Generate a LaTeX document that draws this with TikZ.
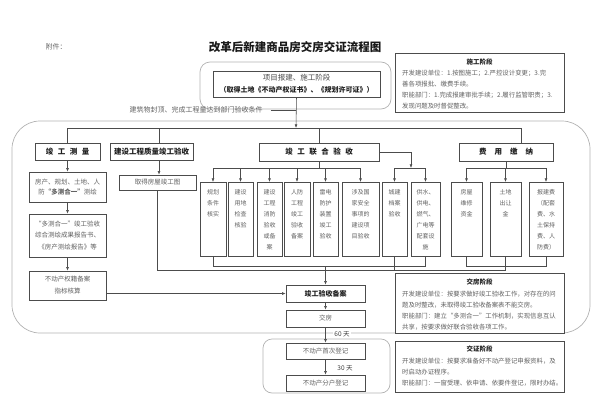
\documentclass[tikz,border=0pt]{standalone}
\usepackage{fontspec}
\setmainfont{Noto Sans CJK SC}
\usetikzlibrary{arrows.meta}
\begin{document}
\begin{tikzpicture}[x=1pt,y=-1pt,
  ln/.style={draw=black!70, line width=0.55pt},
  arr/.style={ln, -{Latex[length=3.6pt,width=2.8pt]}},
  box/.style={draw=black!70, line width=0.6pt, rectangle, inner sep=0pt, fill=white},
  frame/.style={draw=black!30, line width=0.7pt, inner sep=0pt},
  tx/.style={text=black!62, inner sep=0pt},
  hdf/.style={text=black!88, font=\bfseries\fontsize{7.5}{9}\selectfont},
  subtx/.style={tx, align=center, anchor=north, font=\fontsize{6}{11}\selectfont},
  bodytx/.style={tx, anchor=north west, align=left, font=\fontsize{6.4}{11}\selectfont},
  sttl/.style={text=black!88, inner sep=0pt, font=\bfseries\fontsize{6.5}{8}\selectfont},
]
\useasboundingbox (0,0) rectangle (597,407);

% title
\node[text=black!60, inner sep=0pt, font=\fontsize{7}{8}\selectfont] (fj) at (56,47) {附件：};
\node[text=black!90, inner sep=0pt, font=\bfseries\fontsize{11.5}{13}\selectfont] (title) at (295,47) {改革后新建商品房交房交证流程图};

% frames
\node[frame, rounded corners=10, minimum width=191, minimum height=47] (projo) at (295.5,85.5) {};
\node[frame, rounded corners=28, minimum width=578, minimum height=212] (big) at (301,227) {};
\node[frame, rounded corners=9, minimum width=127, minimum height=54] (lowf) at (326.5,366) {};

% top boxes
\node[box, minimum width=167, minimum height=26] (proj) at (296.5,84) {};
\node[tx, text=black!70, font=\fontsize{7.5}{9}\selectfont] (projt1) at (296.5,77.5) {项目报建、施工阶段};
\node[text=black!88, inner sep=0pt, font=\bfseries\fontsize{7}{9}\selectfont] (projt2) at (296.5,90) {（取得土地《不动产权证书》、《规划许可证》）};

\node[box, minimum width=169, minimum height=59] (sg) at (479.5,82.5) {};
\node[sttl] (sgt) at (479.5,62) {施工阶段};
\node[bodytx] (sgb) at (402,69.5) {开发建设单位：1.按图施工；2.严控设计变更；3.完\\善各项报批、缴费手续。\\职能部门：1.完成报建审批手续；2.履行监管职责；3.\\发现问题及时督促整改。};

\node[tx, font=\fontsize{7}{8}\selectfont] (lbl) at (196,110) {建筑物封顶、完成工程量达到部门验收条件};

% row 1
\node[box, hdf, minimum width=65, minimum height=17] (jgcl) at (67.5,151.5) {竣\hspace{4.5pt}工\hspace{4.5pt}测\hspace{4.5pt}量};
\node[box, hdf, minimum width=83, minimum height=17] (zljs) at (151.5,151.5) {建设工程质量竣工验收};
\node[box, hdf, minimum width=120, minimum height=18] (lhys) at (319,152) {竣\hspace{4.5pt}工\hspace{4.5pt}联\hspace{4.5pt}合\hspace{4.5pt}验\hspace{4.5pt}收};
\node[box, hdf, minimum width=94, minimum height=18] (fyjn) at (506,152) {费\hspace{8pt}用\hspace{8pt}缴\hspace{8pt}纳};

% left column
\node[box, tx, align=center, font=\fontsize{6.5}{10}\selectfont, minimum width=77, minimum height=30] (ch1) at (67.5,187) {房产、规划、土地、人\\防\textbf{“多测合一”}测绘};
\node[box, tx, align=center, font=\fontsize{6.5}{11.5}\selectfont, minimum width=77, minimum height=43] (ch2) at (67.5,235.5) {“多测合一”竣工验收\\综合测绘成果报告书、\\《房产测绘报告》等};
\node[box, tx, align=center, font=\fontsize{6.5}{12}\selectfont, minimum width=77, minimum height=29] (ch3) at (67.5,285.5) {不动产权籍备案\\指标核算};
\node[box, tx, font=\fontsize{6.5}{8}\selectfont, minimum width=77, minimum height=15] (jgt) at (157.5,182.5) {取得房屋竣工图};

% sub boxes
\node[box, minimum width=26, minimum height=74, anchor=north] (s1) at (213,182) {};
\node[box, minimum width=25, minimum height=74, anchor=north] (s2) at (240.5,182) {};
\node[box, minimum width=25, minimum height=74, anchor=north] (s3) at (269.5,182) {};
\node[box, minimum width=26, minimum height=74, anchor=north] (s4) at (297,182) {};
\node[box, minimum width=25, minimum height=74, anchor=north] (s5) at (325.5,182) {};
\node[box, minimum width=37, minimum height=74, anchor=north] (s6) at (360.5,182) {};
\node[box, minimum width=25, minimum height=74, anchor=north] (s7) at (394.5,182) {};
\node[box, minimum width=29, minimum height=74, anchor=north] (s8) at (425.5,182) {};
\node[box, minimum width=31, minimum height=74, anchor=north] (f1) at (466.5,182) {};
\node[box, minimum width=31, minimum height=74, anchor=north] (f2) at (505.5,182) {};
\node[box, minimum width=34, minimum height=74, anchor=north] (f3) at (546,182) {};

\node[subtx] (s1t) at ([yshift=-7pt]s1.north) {规划\\条件\\核实};
\node[subtx] (s2t) at ([yshift=-7pt]s2.north) {建设\\用地\\检查\\核验};
\node[subtx] (s3t) at ([yshift=-7pt]s3.north) {建设\\工程\\消防\\验收\\或备\\案};
\node[subtx] (s4t) at ([yshift=-7pt]s4.north) {人防\\工程\\竣工\\验收\\备案};
\node[subtx] (s5t) at ([yshift=-7pt]s5.north) {雷电\\防护\\装置\\竣工\\验收};
\node[subtx] (s6t) at ([yshift=-7pt]s6.north) {涉及国\\家安全\\事项的\\建设项\\目验收};
\node[subtx] (s7t) at ([yshift=-7pt]s7.north) {城建\\档案\\验收};
\node[subtx] (s8t) at ([yshift=-7pt]s8.north) {供水、\\供电、\\燃气、\\广电等\\配套设\\施};
\node[subtx] (f1t) at ([yshift=-7pt]f1.north) {房屋\\维修\\资金};
\node[subtx] (f2t) at ([yshift=-7pt]f2.north) {土地\\出让\\金};
\node[subtx] (f3t) at ([yshift=-7pt]f3.north) {报建费\\（配套\\费、水\\土保持\\费、人\\防费）};

% lower boxes
\node[box, hdf, font=\bfseries\fontsize{7}{8}\selectfont, minimum width=79, minimum height=17] (jgba) at (325.5,293.5) {竣工验收备案};
\node[box, tx, font=\fontsize{6.5}{8}\selectfont, minimum width=79, minimum height=17] (jf) at (325.5,318.5) {交房};
\node[box, tx, font=\fontsize{6.5}{8}\selectfont, minimum width=79, minimum height=16] (bdc1) at (325.5,351) {不动产首次登记};
\node[box, tx, font=\fontsize{6.5}{8}\selectfont, minimum width=79, minimum height=16] (bdc2) at (325.5,383) {不动产分户登记};

\node[box, minimum width=169, minimum height=60] (jfjd) at (479.5,303) {};
\node[sttl] (jfjdt) at (479.5,282) {交房阶段};
\node[bodytx] (jfjdb) at (402,290.5) {开发建设单位：按要求做好竣工验收工作，对存在的问\\题及时整改，未取得竣工验收备案表不能交房。\\职能部门：建立“多测合一”工作机制，实现信息互认\\共享，按要求做好联合验收各项工作。};

\node[box, minimum width=169, minimum height=51] (jzjd) at (479.5,366.5) {};
\node[sttl] (jzjdt) at (479.5,349) {交证阶段};
\node[bodytx] (jzjdb) at (402,357.5) {开发建设单位：按要求准备好不动产登记申报资料，及\\时启动办证程序。\\职能部门：一窗受理、依申请、依要件登记，限时办结。};

% connectors top
\coordinate (tb) at (296,128);
\coordinate (zlx) at (159,128);
\coordinate (fyx) at (521,128);
\draw[arr] (proj.south) -- (tb);
\draw[ln] ([xshift=8pt]lbl.east) -- (lbl.east -| tb);
\draw[ln] (jgcl.north) |- (fyx) -- (fyx |- fyjn.north);
\draw[ln] (zlx) -- (zlx |- zljs.north);
\draw[ln] (lhys.north |- tb) -- (lhys.north);

% left column
\draw[arr] (jgcl.south) -- (ch1.north);
\draw[arr] (ch1.south) -- (ch2.north);
\draw[arr] (ch2.south) -- (ch3.north);
\draw[arr] (zlx |- zljs.south) -- (zlx |- jgt.north);

% joint inspection
\coordinate (jb) at (319,168);
\draw[ln] (lhys.south) -- (jb);
\draw[ln] (s1.north |- jb) -- (s6.north |- jb);
\foreach \n in {s1,s2,s3,s4,s5,s6} \draw[arr] (\n.north |- jb) -- (\n.north);
\coordinate (k1) at (411,168);
\draw[arr] (lhys.east) -| (k1);
\draw[ln] (s7.north |- k1) -- (s8.north |- k1);
\foreach \n in {s7,s8} \draw[arr] (\n.north |- k1) -- (\n.north);

% fees
\coordinate (fb) at (506,168);
\draw[ln] (fyjn.south) -- (fb);
\draw[ln] (f1.north |- fb) -- (f3.north |- fb);
\foreach \n in {f1,f2,f3} \draw[arr] (\n.north |- fb) -- (\n.north);

% bottom collection
\coordinate (bb) at (325.5,266);
\draw[ln] (s1.south) |- (s8.south |- bb) -- (s8.south);
\draw[arr] (bb) -- (jgba.north);
\coordinate (cb) at (505.5,270);
\draw[ln] (jgt.south) |- (cb);
\draw[ln] (s7.south) -- (s7.south |- cb);
\coordinate (fbb) at (505.5,266);
\draw[ln] (f1.south) |- (f3.south |- fbb) -- (f3.south);
\draw[ln] (f2.south) -- (cb);

% lower flow
\draw[arr] (jgba.west -| ch3.east) -- (jgba.west);
\draw[arr] (jgba.south) -- (jf.north);
\draw[arr] (jf.south) -- (bdc1.north);
\draw[arr] (bdc1.south) -- (bdc2.north);
\node[fill=white, inner sep=1.5pt, text=black!75, font=\fontsize{6.5}{8}\selectfont] (d60) at (342,334) {60 天};
\node[inner sep=0pt, text=black!75, font=\fontsize{6.5}{8}\selectfont] (d30) at (345,368) {30 天};
\end{tikzpicture}
\end{document}
